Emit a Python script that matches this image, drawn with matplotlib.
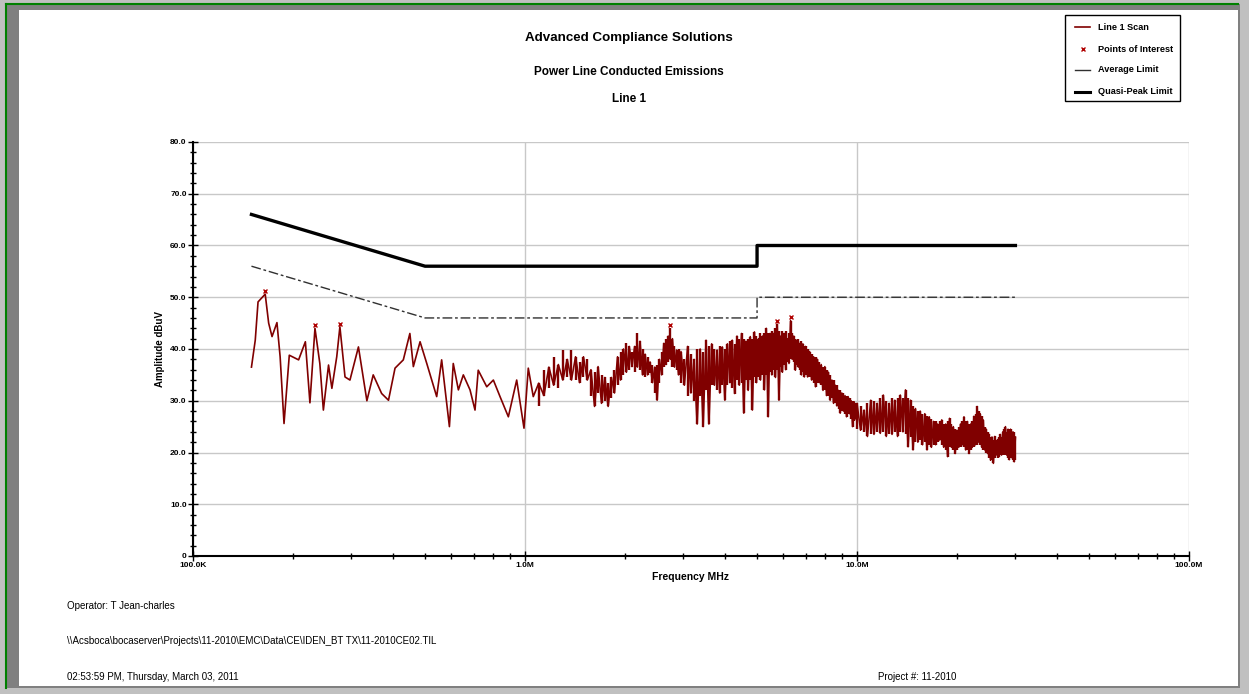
import numpy as np
import matplotlib
matplotlib.use("Agg")
import matplotlib.pyplot as plt
from matplotlib.lines import Line2D
from matplotlib.patches import Rectangle
from matplotlib.ticker import FixedLocator, FixedFormatter, NullFormatter

plt.rcParams['font.family'] = ['Liberation Sans', 'DejaVu Sans']

# scan trace below 1 MHz (MHz, dBuV)
freq_low = [0.150, 0.154, 0.157, 0.165, 0.169, 0.173, 0.179, 0.183, 0.188, 0.195,
            0.208, 0.218, 0.225, 0.233, 0.241, 0.247, 0.256, 0.262, 0.271, 0.277,
            0.287, 0.297, 0.315, 0.334, 0.349, 0.370, 0.388, 0.406, 0.430, 0.450,
            0.461, 0.483, 0.506, 0.542, 0.561, 0.592, 0.608, 0.630, 0.652, 0.683,
            0.707, 0.723, 0.767, 0.803, 0.841, 0.891, 0.944, 0.993, 1.023, 1.059]
amp_low = [36.5, 41.7, 49.1, 50.6, 45.0, 42.4, 45.1, 38.5, 25.6, 38.8,
           37.9, 41.4, 29.6, 44.0, 37.2, 28.2, 36.9, 32.4, 38.5, 44.3,
           34.6, 34.0, 40.4, 30.0, 35.0, 31.4, 30.1, 36.3, 37.9, 43.0,
           36.6, 41.4, 37.2, 30.8, 37.9, 25.0, 37.2, 32.1, 35.0, 32.1,
           28.2, 35.9, 32.7, 34.0, 30.8, 26.9, 34.0, 24.7, 36.3, 30.8]

# above 1 MHz the trace is dense: per frequency, top and bottom of the swing
freq_1m = [1.10, 1.14, 1.18, 1.22, 1.26, 1.30, 1.34, 1.38, 1.42, 1.46,
           1.50, 1.54, 1.58, 1.62, 1.66, 1.70, 1.74, 1.78, 1.82, 1.86,
           1.90, 1.94, 1.98, 2.02, 2.06, 2.10, 2.14, 2.18, 2.22, 2.26,
           2.30, 2.34, 2.38, 2.42, 2.46, 2.50, 2.54, 2.58, 2.62, 2.66,
           2.70, 2.74, 2.78, 2.82, 2.86, 2.90]
hi_1m = [33.4, 35.9, 36.5, 38.5, 37.0, 39.8, 38.0, 39.8, 38.5, 37.5,
         38.5, 38.0, 36.0, 35.5, 36.6, 35.0, 34.5, 33.5, 34.5, 36.0,
         38.5, 39.5, 40.0, 41.1, 40.5, 39.5, 40.5, 43.0, 41.5, 40.0,
         39.0, 38.5, 37.5, 37.0, 36.5, 37.0, 38.0, 39.5, 41.1, 42.0,
         42.5, 44.0, 42.0, 40.5, 39.8, 40.0]
lo_1m = [29.0, 31.0, 32.5, 33.0, 32.4, 34.0, 34.6, 34.0, 34.0, 33.5,
         34.5, 34.0, 31.0, 28.9, 31.5, 29.5, 30.0, 28.9, 30.5, 31.5,
         33.0, 34.0, 35.0, 35.5, 36.0, 36.6, 35.5, 36.5, 35.9, 35.0,
         34.5, 35.0, 35.3, 33.5, 31.5, 30.1, 33.5, 35.0, 36.6, 37.0,
         37.5, 38.0, 36.6, 36.5, 36.0, 35.0]

freq_3m = [2.95, 3.02, 3.09, 3.16, 3.23, 3.30, 3.37, 3.44, 3.51, 3.58,
           3.65, 3.72, 3.79, 3.86, 3.93, 4.00, 4.07, 4.14, 4.21, 4.28,
           4.35, 4.42, 4.49, 4.56, 4.63, 4.70, 4.77, 4.84, 4.91, 4.98,
           5.05, 5.12, 5.19, 5.26, 5.33, 5.40, 5.47, 5.54, 5.61, 5.68,
           5.75, 5.82, 5.89, 5.96, 6.03, 6.10, 6.17, 6.24, 6.31, 6.38,
           6.45, 6.52, 6.59, 6.66, 6.73, 6.80, 6.87, 6.94,
           7.0, 7.1, 7.2, 7.3, 7.4, 7.5, 7.6, 7.7, 7.8, 7.9,
           8.0, 8.1, 8.2, 8.3, 8.4, 8.5, 8.6, 8.7, 8.8, 8.9,
           9.0, 9.1, 9.2, 9.3, 9.4, 9.5, 9.6, 9.7, 9.8, 9.9]
hi_3m = [39.5, 38.0, 40.5, 39.0, 38.0, 40.0, 40.0, 39.5, 41.7, 40.5,
         41.0, 40.0, 39.8, 40.5, 40.4, 40.0, 41.0, 41.5, 41.7, 41.0,
         42.5, 42.0, 43.0, 42.0, 41.5, 42.0, 42.4, 42.0, 43.3, 42.5,
         42.0, 43.0, 42.5, 43.0, 44.0, 43.0, 43.0, 43.5, 43.0, 44.0,
         44.8, 43.5, 42.5, 43.5, 43.0, 43.5, 42.0, 43.0, 45.5, 43.0,
         42.5, 42.0, 41.7, 42.0, 41.1, 41.5, 41.0, 40.5,
         40.5, 40.0, 39.5, 39.0, 38.5, 38.5, 38.0, 37.5, 37.0, 36.5,
         36.6, 36.0, 35.5, 35.0, 34.0, 34.0, 33.0, 33.0, 32.0, 32.0,
         31.5, 31.5, 31.0, 31.0, 30.8, 30.5, 30.0, 30.0, 29.8, 29.5]
lo_3m = [33.5, 33.0, 31.0, 31.5, 30.0, 25.5, 31.0, 25.0, 32.0, 25.5,
         33.0, 33.0, 32.0, 31.5, 33.0, 30.1, 33.0, 33.5, 32.5, 31.4,
         34.0, 33.0, 33.5, 27.6, 34.0, 32.0, 34.0, 28.2, 34.5, 33.5,
         34.5, 34.0, 35.0, 32.1, 35.0, 26.9, 35.5, 35.0, 36.0, 34.5,
         36.0, 30.1, 36.5, 35.5, 37.0, 36.0, 37.5, 37.2, 38.0, 38.0,
         37.5, 35.9, 37.0, 36.5, 36.0, 35.0, 35.5, 34.6,
         35.0, 34.6, 34.5, 34.0, 33.5, 32.7, 33.5, 33.5, 33.0, 32.0,
         32.0, 31.0, 31.0, 30.1, 30.5, 29.5, 29.5, 29.0, 28.5, 27.6,
         28.0, 28.0, 27.5, 26.9, 27.5, 27.5, 26.5, 25.0, 26.0, 26.5]

freq_10m = [10.00, 10.25, 10.50, 10.75, 11.00, 11.25, 11.50, 11.75, 12.00, 12.25,
            12.50, 12.75, 13.00, 13.25, 13.50, 13.75, 14.00, 14.25, 14.50, 14.75,
            15.00, 15.25, 15.50, 15.75, 16.00, 16.25, 16.50, 16.75, 17.00, 17.25,
            17.50, 17.75, 18.00, 18.25, 18.50, 18.75, 19.00, 19.25, 19.50, 19.75,
            20.00, 20.25, 20.50, 20.75, 21.00, 21.25, 21.50, 21.75, 22.00, 22.25,
            22.50, 22.75, 23.00, 23.25, 23.50, 23.75, 24.00, 24.25, 24.50, 24.75,
            25.00, 25.25, 25.50, 25.75, 26.00, 26.25, 26.50, 26.75, 27.00, 27.25,
            27.50, 27.75, 28.00, 28.25, 28.50, 28.75, 29.00, 29.25, 29.50, 29.75,
            30.00]
hi_10m = [29.5, 29.0, 28.2, 29.5, 30.1, 30.0, 29.5, 30.5, 31.1, 30.0,
          29.5, 30.5, 30.1, 30.5, 31.1, 30.5, 32.1, 30.5, 30.1, 29.0,
          28.5, 28.0, 28.0, 27.5, 27.5, 27.0, 26.9, 26.5, 26.0, 26.0,
          25.5, 26.0, 26.3, 25.5, 25.5, 26.0, 26.6, 25.5, 25.0, 24.5,
          24.3, 25.0, 25.5, 26.0, 26.9, 26.0, 26.0, 25.5, 25.5, 26.0,
          27.0, 27.5, 28.9, 28.0, 27.5, 27.0, 26.3, 25.0, 24.5, 24.0,
          23.5, 23.0, 23.0, 22.5, 23.1, 22.5, 22.5, 23.0, 23.5, 23.0,
          24.0, 24.5, 25.0, 24.0, 24.5, 24.5, 24.5, 24.0, 24.0, 24.0,
          23.0]
lo_10m = [24.5, 24.3, 24.0, 23.1, 23.5, 23.5, 24.0, 23.7, 24.0, 23.1,
          23.5, 23.5, 24.0, 23.1, 24.0, 24.0, 23.5, 21.1, 23.0, 20.5,
          22.0, 22.0, 22.5, 21.5, 22.0, 20.5, 21.5, 21.0, 21.5, 21.5,
          22.0, 22.4, 21.5, 21.0, 20.5, 19.2, 21.0, 21.0, 20.5, 19.8,
          20.5, 21.0, 21.0, 21.5, 21.0, 20.5, 20.5, 19.8, 20.5, 21.0,
          21.0, 21.5, 21.5, 22.0, 21.5, 21.0, 20.5, 20.5, 20.0, 19.8,
          19.0, 18.5, 19.0, 17.9, 19.0, 19.5, 19.0, 19.2, 19.5, 19.5,
          19.5, 20.0, 19.5, 19.5, 19.0, 18.6, 19.0, 19.0, 18.5, 18.2,
          18.5]

# points of interest
poi_freq = [0.165, 0.233, 0.277, 2.74, 5.75, 6.31]
poi_amp = [50.6, 44.0, 44.3, 44.0, 44.8, 45.5]

# CISPR 22 class B limits
qp_freq = [0.15, 0.5, 5.0, 5.0, 30.0]
qp_amp = [66, 56, 56, 60, 60]
avg_freq = [0.15, 0.5, 5.0, 5.0, 30.0]
avg_amp = [56, 46, 46, 50, 50]

band_f = freq_1m + freq_3m + freq_10m
band_hi = hi_1m + hi_3m + hi_10m
band_lo = lo_1m + lo_3m + lo_10m

# the trace: low part as read, then swinging top/bottom through the dense part
trace_f = list(freq_low)
trace_a = list(amp_low)
for i, f in enumerate(band_f):
    trace_f.append(f)
    trace_a.append(band_hi[i] if i % 2 == 0 else band_lo[i])

SCAN = '#800000'
POI = '#b00000'

W, H = 1249, 694
fig = plt.figure(figsize=(W / 100, H / 100), dpi=100)


def px(x, y):
    return x / W, 1 - y / H


# page frame
fig.patches.append(Rectangle((0, 0), 1, 1, transform=fig.transFigure,
                             facecolor='#c0c0c0', edgecolor='none', zorder=-10))
fig.patches.append(Rectangle(px(6, 688), 1234 / W, 684 / H, transform=fig.transFigure,
                             facecolor='#808080', edgecolor='none', zorder=-9))
fig.patches.append(Rectangle(px(19, 686), 1219 / W, 676 / H, transform=fig.transFigure,
                             facecolor='white', edgecolor='none', zorder=-8))
fig.add_artist(Line2D([6 / W, 6 / W], [1 - 4 / H, 1 - 688 / H], color='#008000', lw=1.5))
fig.add_artist(Line2D([6 / W, 1238 / W], [1 - 4 / H, 1 - 4 / H], color='#008000', lw=1.5))

ax = fig.add_axes([193 / W, 1 - 556 / H, (1189 - 193) / W, (556 - 142) / H])
ax.set_facecolor('none')

ax.plot(avg_freq, avg_amp, color='#303030', lw=1.0, ls=(0, (7, 2, 2, 2)), zorder=3)
ax.plot(qp_freq, qp_amp, color='black', lw=2.4, zorder=3)
ax.vlines(band_f, band_lo, band_hi, color=SCAN, lw=1.7, zorder=4)
ax.plot(trace_f, trace_a, color=SCAN, lw=1.2, zorder=4)
ax.plot(poi_freq, [a + 0.6 for a in poi_amp], ls='none', marker='x', ms=3.5,
        mew=1.0, color=POI, zorder=5)

ax.set_xscale('log')
ax.set_xlim(0.1, 100)
ax.set_ylim(0, 80)

ax.xaxis.set_major_locator(FixedLocator([0.1, 1, 10, 100]))
ax.xaxis.set_major_formatter(FixedFormatter(['100.0K', '1.0M', '10.0M', '100.0M']))
minors = [m * d for d in (0.1, 1, 10) for m in range(2, 10)]
ax.xaxis.set_minor_locator(FixedLocator(minors))
ax.xaxis.set_minor_formatter(NullFormatter())

yt = [0, 10, 20, 30, 40, 50, 60, 70, 80]
ax.yaxis.set_major_locator(FixedLocator(yt))
ax.yaxis.set_major_formatter(FixedFormatter(['0'] + ['%.1f' % v for v in yt[1:]]))
ax.yaxis.set_minor_locator(FixedLocator(range(0, 81, 2)))

ax.grid(True, which='major', color='#c8c8c8', lw=1.0, zorder=0)
for s in ('top', 'right'):
    ax.spines[s].set_visible(False)
for s in ('left', 'bottom'):
    ax.spines[s].set_linewidth(1.5)

ax.tick_params(which='major', direction='inout', length=7, width=1.0,
               labelsize=6, pad=1)
ax.tick_params(which='minor', direction='inout', length=5, width=1.0)
for lab in ax.get_xticklabels() + ax.get_yticklabels():
    lab.set_fontweight('bold')

ax.set_xlabel('Frequency MHz', fontsize=7.5, fontweight='bold', labelpad=2)
ax.set_ylabel('Amplitude dBuV', fontsize=7, fontweight='bold', labelpad=4)

# titles
fig.text(*px(629, 38), 'Advanced Compliance Solutions', ha='center', va='center',
         fontsize=9.6, fontweight='bold')
fig.text(*px(629, 72), 'Power Line Conducted Emissions', ha='center', va='center',
         fontsize=8.5, fontweight='bold')
fig.text(*px(629, 99), 'Line 1', ha='center', va='center',
         fontsize=8.5, fontweight='bold')

# footer
foot = 7
fig.text(*px(67, 606), 'Operator: T Jean-charles', va='center', fontsize=foot)
fig.text(*px(67, 641), r'\\Acsboca\bocaserver\Projects\11-2010\EMC\Data\CE\IDEN_BT TX\11-2010CE02.TIL',
         va='center', fontsize=foot)
fig.text(*px(67, 677), '02:53:59 PM, Thursday, March 03, 2011', va='center', fontsize=foot)
fig.text(*px(878, 677), 'Project #: 11-2010', va='center', fontsize=foot)

# legend box, drawn by hand so the long label is cut at the frame like the original
box = Rectangle(px(1065, 101), 115 / W, 86 / H, transform=fig.transFigure,
                facecolor='white', edgecolor='black', lw=1.0, zorder=20)
fig.patches.append(box)
leg_labels = ['Line 1 Scan', 'Points of Interest', 'Average Limit', 'Quasi-Peak Limit']
leg_y = [27, 49, 70, 92]
for lab, yy in zip(leg_labels, leg_y):
    t = fig.text(*px(1098, yy), lab, va='center', fontsize=6.6, fontweight='bold', zorder=21)
    t.set_clip_path(box)
x0, x1 = 1075 / W, 1090 / W
fig.add_artist(Line2D([x0, x1], [px(0, 27)[1]] * 2, color=SCAN, lw=1.2, zorder=21))
fig.add_artist(Line2D([(x0 + x1) / 2], [px(0, 49)[1]], ls='none', marker='x', ms=3.5,
                      mew=1.0, color=POI, zorder=21))
fig.add_artist(Line2D([x0, x1], [px(0, 70)[1]] * 2, color='#303030', lw=1.0, zorder=21))
fig.add_artist(Line2D([x0, x1], [px(0, 92)[1]] * 2, color='black', lw=2.2, zorder=21))

fig.savefig('out.png', dpi=100)
